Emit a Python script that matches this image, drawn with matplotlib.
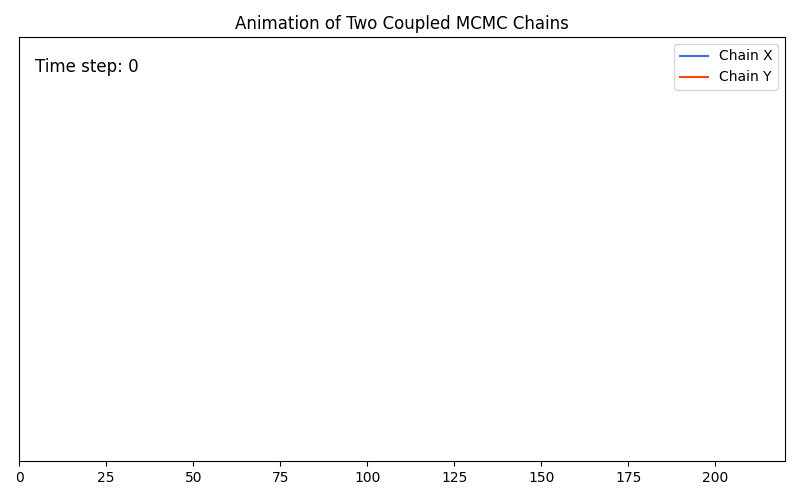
import matplotlib
matplotlib.use("Agg")
import matplotlib.pyplot as plt

# frame 0 of the animation: nothing drawn yet
steps = []
chain_x = []
chain_y = []
n_steps = 220
time_step = 0

fig, ax = plt.subplots(figsize=(8, 5), dpi=100)
ax.plot(steps, chain_x, color='royalblue', label='Chain X')
ax.plot(steps, chain_y, color='orangered', label='Chain Y')
ax.set_xlim(0, n_steps)
ax.set_ylim(-3, 3)
ax.set_yticks([])
ax.set_title("Animation of Two Coupled MCMC Chains")
ax.text(0.02, 0.95, f"Time step: {time_step}", transform=ax.transAxes,
        fontsize=12, va='top')
ax.legend(loc='upper right')
fig.subplots_adjust(left=0.024, right=0.981, top=0.926, bottom=0.078)
fig.savefig("out.png")
